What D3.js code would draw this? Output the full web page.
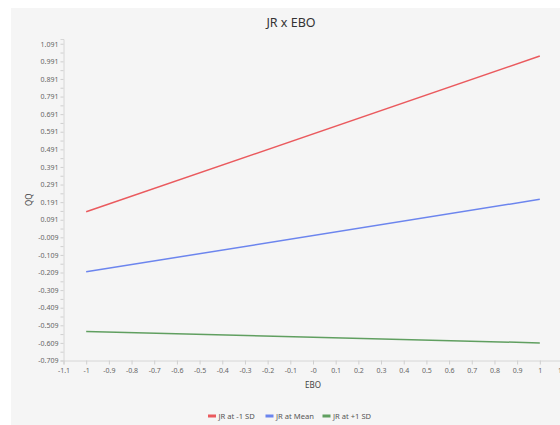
<!DOCTYPE html>
<html>
<head>
<meta charset="utf-8">
<script src="https://cdn.jsdelivr.net/npm/d3@7"></script>
<style>
  html, body { margin: 0; padding: 0; background: #fff; }
  svg { display: block; }
  text { font-family: "Noto Sans", "Open Sans", sans-serif; }
</style>
</head>
<body>
<svg id="chart" width="560" height="425"></svg>
<script>
// Simple-slope lines of QQ on EBO at three levels of JR
const seriesNames = ["JR at -1 SD", "JR at Mean", "JR at +1 SD"];
const seriesColors = ["#ea5a5e", "#6c85ee", "#609f60"];
const ebo = [-1, 1];
const lowJR = [0.136, 1.021];
const meanJR = [-0.205, 0.207];
const highJR = [-0.544, -0.609];

const xTicks = [-1.1, -1, -0.9, -0.8, -0.7, -0.6, -0.5, -0.4, -0.3, -0.2, -0.1, 0, 0.1, 0.2, 0.3, 0.4, 0.5, 0.6, 0.7, 0.8, 0.9, 1, 1.1];
const xTickLabels = ["-1.1", "-1", "-0.9", "-0.8", "-0.7", "-0.6", "-0.5", "-0.4", "-0.3", "-0.2", "-0.1", "-0", "0.1", "0.2", "0.3", "0.4", "0.5", "0.6", "0.7", "0.8", "0.9", "1", "1.1"];
const yTicks = [-0.709, -0.609, -0.509, -0.409, -0.309, -0.209, -0.109, -0.009, 0.091, 0.191, 0.291, 0.391, 0.491, 0.591, 0.691, 0.791, 0.891, 0.991, 1.091];
const yTickLabels = ["-0.709", "-0.609", "-0.509", "-0.409", "-0.309", "-0.209", "-0.109", "-0.009", "0.091", "0.191", "0.291", "0.391", "0.491", "0.591", "0.691", "0.791", "0.891", "0.991", "1.091"];

const series = [lowJR, meanJR, highJR].map((vals, i) => ({
  name: seriesNames[i],
  color: seriesColors[i],
  points: ebo.map((x, j) => ({ x, y: vals[j] }))
}));

const svg = d3.select("#chart");

// panel background
svg.append("rect").attr("x", 11).attr("y", 8).attr("width", 549).attr("height", 417).attr("fill", "#f5f5f5");

const x = d3.scaleLinear().domain([-1.1, 1.1]).range([63.5, 562.5]);
const y = d3.scaleLinear().domain([-0.709, 1.118]).range([360.5, 39]);

// title
svg.append("text").attr("x", 291).attr("y", 27).attr("text-anchor", "middle")
  .attr("font-size", 12.5).attr("fill", "#333").text("JR x EBO");

// y axis: labelled major ticks plus unlabelled midpoints
const yMinor = yTicks.slice(0, -1).map((v, i) => (v + yTicks[i + 1]) / 2);
const yAxisG = svg.append("g").attr("transform", `translate(${x(-1.1)},0)`);
yAxisG.call(d3.axisLeft(y).tickValues(yTicks).tickSize(3).tickPadding(2)
  .tickFormat((d, i) => yTickLabels[i]));
yAxisG.append("g").call(d3.axisLeft(y).tickValues(yMinor).tickSize(3).tickFormat(""))
  .select(".domain").remove();
yAxisG.selectAll("text").attr("font-size", 7).attr("fill", "#666");

// x axis
const xAxisG = svg.append("g").attr("transform", `translate(0,${y(-0.709)})`);
xAxisG.call(d3.axisBottom(x).tickValues(xTicks).tickSize(4).tickPadding(4)
  .tickFormat((d, i) => xTickLabels[i]));
xAxisG.selectAll("text").attr("font-size", 7).attr("fill", "#666");

svg.selectAll(".domain").attr("stroke", "#d6d6d6");
svg.selectAll(".tick line").attr("stroke", "#cfcfcf");

// axis titles
svg.append("text").attr("x", x(0)).attr("y", 388).attr("text-anchor", "middle")
  .attr("font-size", 8).attr("fill", "#444").text("EBO");
svg.append("text").attr("transform", `translate(32,${(y.range()[0] + y.range()[1]) / 2}) rotate(-90)`)
  .attr("text-anchor", "middle").attr("font-size", 8).attr("fill", "#444").text("QQ");

// lines
const line = d3.line().x(d => x(d.x)).y(d => y(d.y));
svg.append("g").selectAll("path").data(series).join("path")
  .attr("d", d => line(d.points))
  .attr("fill", "none")
  .attr("stroke", d => d.color)
  .attr("stroke-width", 1.5);

// legend
const legendX = [208, 265.5, 322.5];
const lg = svg.append("g").selectAll("g").data(series).join("g")
  .attr("transform", (d, i) => `translate(${legendX[i]},416)`);
lg.append("rect").attr("x", 0).attr("y", -1.5).attr("width", 8).attr("height", 3).attr("fill", d => d.color);
lg.append("text").attr("x", 10.5).attr("y", 2.8).attr("font-size", 7.6).attr("fill", "#555").text(d => d.name);
</script>
</body>
</html>
